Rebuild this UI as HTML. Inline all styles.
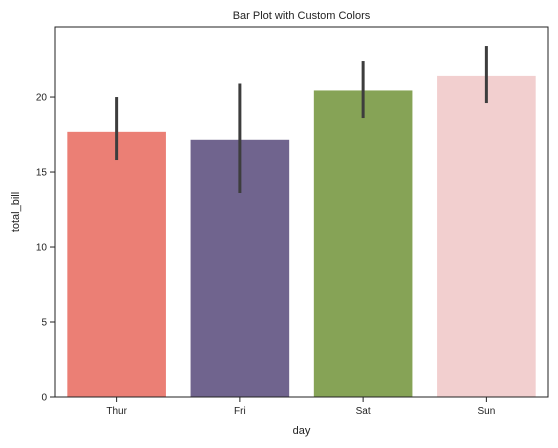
<!DOCTYPE html>
<html><head><meta charset="utf-8"><style>
body{margin:0;background:#fff;}
svg{display:block;font-family:"Liberation Sans","DejaVu Sans",sans-serif;}
</style></head><body>
<svg id="chart" width="558" height="448"></svg>
<script>
const categories=["Thur","Fri","Sat","Sun"];
const values=[17.68,17.15,20.44,21.41];
const ciLow=[15.8,13.6,18.6,19.6];
const ciHigh=[20.0,20.9,22.4,23.4];
const colors=["#eb7f75","#70648e","#86a356","#f2cfcf"];
const yTicks=[0,5,10,15,20];
const L=55,R=548,T=27,B=397,yMax=24.67;
const NS="http://www.w3.org/2000/svg";
const svg=document.getElementById('chart');
function y(v){return B-(v/yMax)*(B-T);}
const band=(R-L)/categories.length;
function xc(i){return L+band*(i+0.5);}
function mk(tag,attrs,parent){const e=document.createElementNS(NS,tag);for(const k in attrs)e.setAttribute(k,attrs[k]);(parent||svg).appendChild(e);return e;}
categories.forEach((c,i)=>{
  const bw=band*0.8;
  const r=mk('rect',{x:xc(i)-bw/2,y:y(values[i]),width:bw,height:B-y(values[i]),fill:colors[i]});
  
  
  const l=mk('line',{x1:xc(i),x2:xc(i),y1:y(ciLow[i]),y2:y(ciHigh[i]),stroke:'#3d3d3d','stroke-width':3});
  
  
  mk('line',{x1:xc(i),x2:xc(i),y1:B,y2:B+5,stroke:'#222','stroke-width':1});
  const t=mk('text',{x:xc(i),y:B+17,'text-anchor':'middle','font-size':10,fill:'#222'});
  t.textContent=c;
  
  
});
yTicks.forEach(v=>{
  mk('line',{x1:L-5,x2:L,y1:y(v),y2:y(v),stroke:'#222','stroke-width':1});
  const t=mk('text',{x:L-8,y:y(v)+3.5,'text-anchor':'end','font-size':10,fill:'#222'});
  t.textContent=v;
  
  
});
const frame=mk('rect',{x:L,y:T,width:R-L,height:B-T,fill:'none',stroke:'#222','stroke-width':1});


const title=mk('text',{x:(L+R)/2,y:19,'text-anchor':'middle','font-size':11,fill:'#222'});
title.textContent='Bar Plot with Custom Colors';


const xl=mk('text',{x:(L+R)/2,y:434,'text-anchor':'middle','font-size':11,fill:'#222'});
xl.textContent='day';


const yl=mk('text',{x:19,y:(T+B)/2,'text-anchor':'middle','font-size':11,fill:'#222',transform:'rotate(-90 19 '+((T+B)/2)+')'});
yl.textContent='total_bill';


</script>
</body></html>
